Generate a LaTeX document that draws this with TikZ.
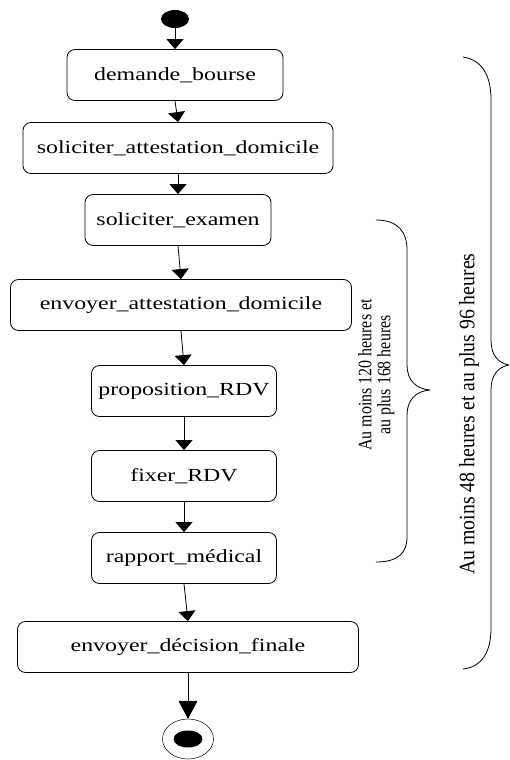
\documentclass[tikz,border=0pt]{standalone}
\usepackage{fontspec}
\setmainfont{Liberation Serif}
\usetikzlibrary{arrows.meta,shapes.geometric}
\newcommand\actfont{\fontsize{18.5}{22}\selectfont}
\newcommand\acttxt[1]{\scalebox{1.29}[1]{#1}}
\newcommand\delaitxt[2]{\scalebox{#1}[1]{\begin{tabular}{@{}c@{}}#2\end{tabular}}}
\begin{document}
\begin{tikzpicture}[x=1pt,y=-1pt,>={Triangle[width=17pt,length=10pt]},line join=round,
	act/.style={draw,line width=0.8pt,rounded corners=8pt,minimum height=51pt,inner sep=0pt,font=\actfont},
	delai/.style={rotate=90,inner sep=0pt}]
	\useasboundingbox (0,0) rectangle (509,760);
	% etat initial
	\node[ellipse,fill,minimum width=28pt,minimum height=18pt,inner sep=0pt] (debut) at (175,19) {};
	% activites
	\node[act,minimum width=216pt] (demande) at (175,75) {\acttxt{demande\_bourse}};
	\node[act,minimum width=310pt] (solAtt) at (178,148) {\acttxt{soliciter\_attestation\_domicile}};
	\node[act,minimum width=186pt] (solExam) at (178,220) {\acttxt{soliciter\_examen}};
	\node[act,minimum width=341pt] (envAtt) at (181,305) {\acttxt{envoyer\_attestation\_domicile}};
	\node[act,minimum width=185pt] (propRDV) at (184,391) {\acttxt{proposition\_RDV}};
	\node[act,minimum width=185pt] (fixRDV) at (184,476) {\acttxt{fixer\_RDV}};
	\node[act,minimum width=185pt] (rapport) at (184,558) {\acttxt{rapport\_médical}};
	\node[act,minimum width=341pt] (decision) at (188,647) {\acttxt{envoyer\_décision\_finale}};
	% etat final
	\node[ellipse,draw,line width=0.5pt,minimum width=51pt,minimum height=40pt,inner sep=0pt] (fin) at (188,739) {};
	\node[ellipse,fill,minimum width=29pt,minimum height=17pt,inner sep=0pt] (finIn) at (188,739) {};
	% transitions
	\draw[->,line width=0.8pt] (debut) -- (demande);
	\draw[->,line width=0.8pt] (demande.south) -- (solAtt.north);
	\draw[->,line width=0.8pt] (solAtt.south) -- (solExam.north);
	\draw[->,line width=0.8pt] (solExam.south) -- (envAtt.north);
	\draw[->,line width=0.8pt] (envAtt.south) -- (propRDV.north);
	\draw[->,line width=0.8pt] (propRDV.south) -- (fixRDV.north);
	\draw[->,line width=0.8pt] (fixRDV.south) -- (rapport.north);
	\draw[->,line width=0.8pt] (rapport.south) -- (decision.north);
	\draw[-{Triangle[width=19pt,length=18pt]},line width=0.8pt] (decision.south) -- (fin.north);
	% accolades
	\draw[line width=0.8pt] (376,220) .. controls (398,220) and (407,232) .. (407,250) -- (407,365)
		.. controls (407,380) and (416,389) .. (430,390) .. controls (416,391) and (407,400) .. (407,415)
		-- (407,537) .. controls (407,553) and (398,562) .. (376,562);
	\draw[line width=0.8pt] (463,57) .. controls (482,60) and (491,75) .. (491,100) -- (491,340)
		.. controls (491,355) and (498,363) .. (509,365) .. controls (498,367) and (491,375) .. (491,390)
		-- (491,628) .. controls (491,652) and (482,667) .. (463,669);
	\node[delai,font=\fontsize{19}{19}\selectfont] (court) at (377,375) {\delaitxt{0.84}{Au moins 120 heures et\\au plus 168 heures}};
	\node[delai,font=\fontsize{22}{22}\selectfont] (long) at (470,414) {\delaitxt{0.9}{Au moins 48 heures et au plus 96 heures}};
\end{tikzpicture}
\end{document}
